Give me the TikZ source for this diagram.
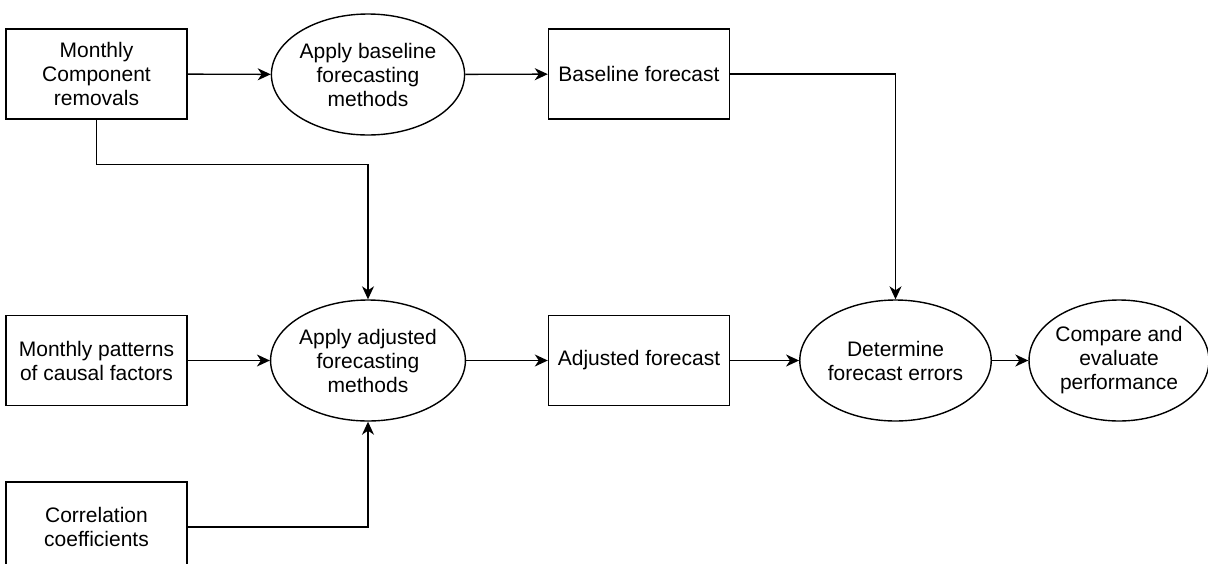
\documentclass[tikz,border=0pt]{standalone}
\usepackage{fontspec}
\setmainfont{Liberation Sans}
\usetikzlibrary{shapes.geometric,arrows.meta}
\begin{document}
\begin{tikzpicture}[x=1pt, y=-1pt,
    line width=1.4pt,
    font=\fontsize{21}{24}\selectfont,
    databox/.style={draw, rectangle, minimum width=181pt, minimum height=90pt, align=center, inner sep=0pt},
    procell/.style={draw, ellipse, minimum width=182pt, minimum height=121pt, align=center, inner sep=0pt},
    flow/.style={-{Stealth[length=13pt, width=12pt, inset=4pt]}}]
    \useasboundingbox (0,0) rectangle (1208,563);
    \node[databox] (rem) at (96.5,74) {Monthly\\Component\\removals};
    \node[procell] (base) at (368,74.5) {Apply baseline\\forecasting\\methods};
    \node[databox] (bfc) at (639,74) {Baseline forecast};
    \node[databox] (pat) at (96.5,360.5) {Monthly patterns\\of causal factors};
    \node[procell] (adj) at (368,360.5) {Apply adjusted\\forecasting\\methods};
    \node[databox] (afc) at (639,360.5) {Adjusted forecast};
    \node[procell] (err) at (895.5,360.5) {Determine\\forecast errors};
    \node[procell, minimum width=176pt] (cmp) at (1119,360.5) {Compare and\\evaluate\\performance};
    \node[databox] (cor) at (96.5,527) {Correlation\\coefficients};
    \draw[flow] (rem) -- (base);
    \draw[flow] (base) -- (bfc);
    \draw[flow] (bfc.east) -| (err.north);
    \draw[flow] (rem.south) -- ++(0,45) -| (adj.north);
    \draw[flow] (pat) -- (adj);
    \draw[flow] (cor.east) -| (adj.south);
    \draw[flow] (adj) -- (afc);
    \draw[flow] (afc) -- (err);
    \draw[flow] (err) -- (cmp);
\end{tikzpicture}
\end{document}
